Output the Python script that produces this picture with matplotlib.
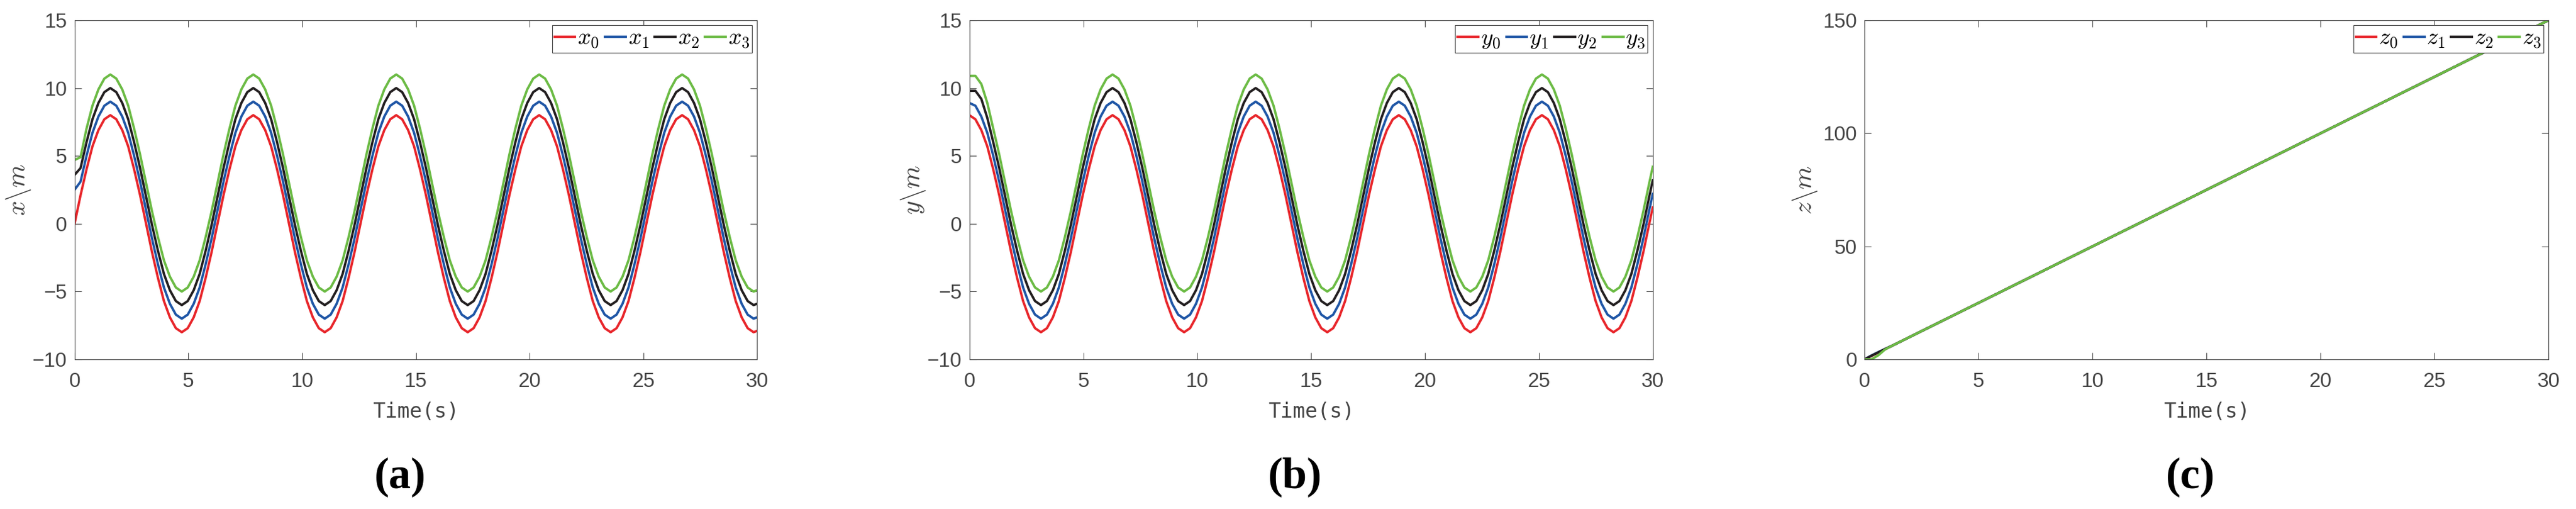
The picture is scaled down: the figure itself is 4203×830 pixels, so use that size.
import numpy as np
import matplotlib
matplotlib.use('Agg')
import matplotlib.pyplot as plt

plt.rcParams['mathtext.fontset'] = 'cm'
plt.rcParams['font.family'] = ['Liberation Sans', 'DejaVu Sans']

# time grid of the sampled curves (15 degree steps, last point at 30 s)
t_wave = np.append(np.arange(115) * np.pi / 12, 30.0)

x0 = [0, 2.1, 4.0, 5.7, 6.9, 7.7, 8.0, 7.7, 6.9, 5.7, 4.0, 2.1, 0, -2.1, -4.0, -5.7, -6.9, -7.7, -8.0, -7.7, -6.9, -5.7, -4.0, -2.1,
      0, 2.1, 4.0, 5.7, 6.9, 7.7, 8.0, 7.7, 6.9, 5.7, 4.0, 2.1, 0, -2.1, -4.0, -5.7, -6.9, -7.7, -8.0, -7.7, -6.9, -5.7, -4.0, -2.1,
      0, 2.1, 4.0, 5.7, 6.9, 7.7, 8.0, 7.7, 6.9, 5.7, 4.0, 2.1, 0, -2.1, -4.0, -5.7, -6.9, -7.7, -8.0, -7.7, -6.9, -5.7, -4.0, -2.1,
      0, 2.1, 4.0, 5.7, 6.9, 7.7, 8.0, 7.7, 6.9, 5.7, 4.0, 2.1, 0, -2.1, -4.0, -5.7, -6.9, -7.7, -8.0, -7.7, -6.9, -5.7, -4.0, -2.1,
      0, 2.1, 4.0, 5.7, 6.9, 7.7, 8.0, 7.7, 6.9, 5.7, 4.0, 2.1, 0, -2.1, -4.0, -5.7, -6.9, -7.7, -8.0, -7.9]
x1 = [2.5, 3.1, 5.0, 6.7, 7.9, 8.7, 9.0, 8.7, 7.9, 6.7, 5.0, 3.1, 1.0, -1.1, -3.0, -4.7, -5.9, -6.7, -7.0, -6.7, -5.9, -4.7, -3.0, -1.1,
      1.0, 3.1, 5.0, 6.7, 7.9, 8.7, 9.0, 8.7, 7.9, 6.7, 5.0, 3.1, 1.0, -1.1, -3.0, -4.7, -5.9, -6.7, -7.0, -6.7, -5.9, -4.7, -3.0, -1.1,
      1.0, 3.1, 5.0, 6.7, 7.9, 8.7, 9.0, 8.7, 7.9, 6.7, 5.0, 3.1, 1.0, -1.1, -3.0, -4.7, -5.9, -6.7, -7.0, -6.7, -5.9, -4.7, -3.0, -1.1,
      1.0, 3.1, 5.0, 6.7, 7.9, 8.7, 9.0, 8.7, 7.9, 6.7, 5.0, 3.1, 1.0, -1.1, -3.0, -4.7, -5.9, -6.7, -7.0, -6.7, -5.9, -4.7, -3.0, -1.1,
      1.0, 3.1, 5.0, 6.7, 7.9, 8.7, 9.0, 8.7, 7.9, 6.7, 5.0, 3.1, 1.0, -1.1, -3.0, -4.7, -5.9, -6.7, -7.0, -6.9]
x2 = [3.6, 4.1, 6.0, 7.7, 8.9, 9.7, 10.0, 9.7, 8.9, 7.7, 6.0, 4.1, 2.0, -0.1, -2.0, -3.7, -4.9, -5.7, -6.0, -5.7, -4.9, -3.7, -2.0, -0.1,
      2.0, 4.1, 6.0, 7.7, 8.9, 9.7, 10.0, 9.7, 8.9, 7.7, 6.0, 4.1, 2.0, -0.1, -2.0, -3.7, -4.9, -5.7, -6.0, -5.7, -4.9, -3.7, -2.0, -0.1,
      2.0, 4.1, 6.0, 7.7, 8.9, 9.7, 10.0, 9.7, 8.9, 7.7, 6.0, 4.1, 2.0, -0.1, -2.0, -3.7, -4.9, -5.7, -6.0, -5.7, -4.9, -3.7, -2.0, -0.1,
      2.0, 4.1, 6.0, 7.7, 8.9, 9.7, 10.0, 9.7, 8.9, 7.7, 6.0, 4.1, 2.0, -0.1, -2.0, -3.7, -4.9, -5.7, -6.0, -5.7, -4.9, -3.7, -2.0, -0.1,
      2.0, 4.1, 6.0, 7.7, 8.9, 9.7, 10.0, 9.7, 8.9, 7.7, 6.0, 4.1, 2.0, -0.1, -2.0, -3.7, -4.9, -5.7, -6.0, -5.9]
x3 = [4.7, 4.9, 7.0, 8.7, 9.9, 10.7, 11.0, 10.7, 9.9, 8.7, 7.0, 5.1, 3.0, 0.9, -1.0, -2.7, -3.9, -4.7, -5.0, -4.7, -3.9, -2.7, -1.0, 0.9,
      3.0, 5.1, 7.0, 8.7, 9.9, 10.7, 11.0, 10.7, 9.9, 8.7, 7.0, 5.1, 3.0, 0.9, -1.0, -2.7, -3.9, -4.7, -5.0, -4.7, -3.9, -2.7, -1.0, 0.9,
      3.0, 5.1, 7.0, 8.7, 9.9, 10.7, 11.0, 10.7, 9.9, 8.7, 7.0, 5.1, 3.0, 0.9, -1.0, -2.7, -3.9, -4.7, -5.0, -4.7, -3.9, -2.7, -1.0, 0.9,
      3.0, 5.1, 7.0, 8.7, 9.9, 10.7, 11.0, 10.7, 9.9, 8.7, 7.0, 5.1, 3.0, 0.9, -1.0, -2.7, -3.9, -4.7, -5.0, -4.7, -3.9, -2.7, -1.0, 0.9,
      3.0, 5.1, 7.0, 8.7, 9.9, 10.7, 11.0, 10.7, 9.9, 8.7, 7.0, 5.1, 3.0, 0.9, -1.0, -2.7, -3.9, -4.7, -5.0, -4.9]

y0 = [8.0, 7.7, 6.9, 5.7, 4.0, 2.1, 0, -2.1, -4.0, -5.7, -6.9, -7.7, -8.0, -7.7, -6.9, -5.7, -4.0, -2.1, 0, 2.1, 4.0, 5.7, 6.9, 7.7,
      8.0, 7.7, 6.9, 5.7, 4.0, 2.1, 0, -2.1, -4.0, -5.7, -6.9, -7.7, -8.0, -7.7, -6.9, -5.7, -4.0, -2.1, 0, 2.1, 4.0, 5.7, 6.9, 7.7,
      8.0, 7.7, 6.9, 5.7, 4.0, 2.1, 0, -2.1, -4.0, -5.7, -6.9, -7.7, -8.0, -7.7, -6.9, -5.7, -4.0, -2.1, 0, 2.1, 4.0, 5.7, 6.9, 7.7,
      8.0, 7.7, 6.9, 5.7, 4.0, 2.1, 0, -2.1, -4.0, -5.7, -6.9, -7.7, -8.0, -7.7, -6.9, -5.7, -4.0, -2.1, 0, 2.1, 4.0, 5.7, 6.9, 7.7,
      8.0, 7.7, 6.9, 5.7, 4.0, 2.1, 0, -2.1, -4.0, -5.7, -6.9, -7.7, -8.0, -7.7, -6.9, -5.7, -4.0, -2.1, 0, 1.2]
y1 = [8.9, 8.7, 7.9, 6.7, 5.0, 3.1, 1.0, -1.1, -3.0, -4.7, -5.9, -6.7, -7.0, -6.7, -5.9, -4.7, -3.0, -1.1, 1.0, 3.1, 5.0, 6.7, 7.9, 8.7,
      9.0, 8.7, 7.9, 6.7, 5.0, 3.1, 1.0, -1.1, -3.0, -4.7, -5.9, -6.7, -7.0, -6.7, -5.9, -4.7, -3.0, -1.1, 1.0, 3.1, 5.0, 6.7, 7.9, 8.7,
      9.0, 8.7, 7.9, 6.7, 5.0, 3.1, 1.0, -1.1, -3.0, -4.7, -5.9, -6.7, -7.0, -6.7, -5.9, -4.7, -3.0, -1.1, 1.0, 3.1, 5.0, 6.7, 7.9, 8.7,
      9.0, 8.7, 7.9, 6.7, 5.0, 3.1, 1.0, -1.1, -3.0, -4.7, -5.9, -6.7, -7.0, -6.7, -5.9, -4.7, -3.0, -1.1, 1.0, 3.1, 5.0, 6.7, 7.9, 8.7,
      9.0, 8.7, 7.9, 6.7, 5.0, 3.1, 1.0, -1.1, -3.0, -4.7, -5.9, -6.7, -7.0, -6.7, -5.9, -4.7, -3.0, -1.1, 1.0, 2.2]
y2 = [9.8, 9.8, 9.2, 7.8, 6.0, 4.1, 2.0, -0.1, -2.0, -3.7, -4.9, -5.7, -6.0, -5.7, -4.9, -3.7, -2.0, -0.1, 2.0, 4.1, 6.0, 7.7, 8.9, 9.7,
      10.0, 9.7, 8.9, 7.7, 6.0, 4.1, 2.0, -0.1, -2.0, -3.7, -4.9, -5.7, -6.0, -5.7, -4.9, -3.7, -2.0, -0.1, 2.0, 4.1, 6.0, 7.7, 8.9, 9.7,
      10.0, 9.7, 8.9, 7.7, 6.0, 4.1, 2.0, -0.1, -2.0, -3.7, -4.9, -5.7, -6.0, -5.7, -4.9, -3.7, -2.0, -0.1, 2.0, 4.1, 6.0, 7.7, 8.9, 9.7,
      10.0, 9.7, 8.9, 7.7, 6.0, 4.1, 2.0, -0.1, -2.0, -3.7, -4.9, -5.7, -6.0, -5.7, -4.9, -3.7, -2.0, -0.1, 2.0, 4.1, 6.0, 7.7, 8.9, 9.7,
      10.0, 9.7, 8.9, 7.7, 6.0, 4.1, 2.0, -0.1, -2.0, -3.7, -4.9, -5.7, -6.0, -5.7, -4.9, -3.7, -2.0, -0.1, 2.0, 3.2]
y3 = [10.9, 10.9, 10.3, 8.9, 7.0, 5.1, 3.0, 0.9, -1.0, -2.7, -3.9, -4.7, -5.0, -4.7, -3.9, -2.7, -1.0, 0.9, 3.0, 5.1, 7.0, 8.7, 9.9, 10.7,
      11.0, 10.7, 9.9, 8.7, 7.0, 5.1, 3.0, 0.9, -1.0, -2.7, -3.9, -4.7, -5.0, -4.7, -3.9, -2.7, -1.0, 0.9, 3.0, 5.1, 7.0, 8.7, 9.9, 10.7,
      11.0, 10.7, 9.9, 8.7, 7.0, 5.1, 3.0, 0.9, -1.0, -2.7, -3.9, -4.7, -5.0, -4.7, -3.9, -2.7, -1.0, 0.9, 3.0, 5.1, 7.0, 8.7, 9.9, 10.7,
      11.0, 10.7, 9.9, 8.7, 7.0, 5.1, 3.0, 0.9, -1.0, -2.7, -3.9, -4.7, -5.0, -4.7, -3.9, -2.7, -1.0, 0.9, 3.0, 5.1, 7.0, 8.7, 9.9, 10.7,
      11.0, 10.7, 9.9, 8.7, 7.0, 5.1, 3.0, 0.9, -1.0, -2.7, -3.9, -4.7, -5.0, -4.7, -3.9, -2.7, -1.0, 0.9, 3.0, 4.2]

t_z = [0, 0.3, 0.6, 0.9, 1.2, 30]
z0 = [0, 1.5, 3.0, 4.5, 6.0, 150]
z1 = [0, 1.7, 3.2, 4.6, 6.0, 150]
z2 = [0, 1.6, 3.1, 4.6, 6.0, 150]
z3 = [0, 0.0, 1.8, 4.4, 6.0, 150]

colors = ['#E8262B', '#1F56A6', '#231F20', '#6CBB45']
gray = '#454545'

# axes boxes in pixels: left, right (figure is 4203 x 830, axes 33..586 vertically)
W, H = 4203.0, 830.0
boxes = [(121.7, 1235.3), (1581.7, 2696.7), (3042.3, 4158.3)]
top_px, bot_px = 33.0, 586.0

panels = [
    (t_wave, [x0, x1, x2, x3], 'x', (-10, 15), [-10, -5, 0, 5, 10, 15], -0.062, '(a)'),
    (t_wave, [y0, y1, y2, y3], 'y', (-10, 15), [-10, -5, 0, 5, 10, 15], -0.062, '(b)'),
    (t_z, [z0, z1, z2, z3], 'z', (0, 150), [0, 50, 100, 150], -0.067, '(c)'),
]

fig = plt.figure(figsize=(W / 100, H / 100), dpi=100)

for (l, r), (tt, series, name, ylim, yt, ylab_x, tag) in zip(boxes, panels):
    ax = fig.add_axes([l / W, 1 - bot_px / H, (r - l) / W, (bot_px - top_px) / H])
    for i, s in enumerate(series):
        ax.plot(tt, s, color=colors[i], lw=2.8, label='$%s_%d$' % (name, i))
    ax.set_xlim(0, 30)
    ax.set_ylim(*ylim)
    ax.set_xticks([0, 5, 10, 15, 20, 25, 30])
    ax.set_yticks(yt)
    for sp in ax.spines.values():
        sp.set_color(gray)
        sp.set_linewidth(0.8)
    ax.tick_params(direction='in', length=8, width=0.8, color=gray, top=True, right=True,
                   labelsize=24, labelcolor=gray)
    ax.tick_params(axis='x', pad=15)
    ax.tick_params(axis='y', pad=9)
    ax.set_xlabel('Time(s)', fontsize=24, color=gray, family='DejaVu Sans Mono', labelpad=12)
    ax.set_ylabel(r'$%s\backslash m$' % name, fontsize=31, color=gray)
    ax.yaxis.set_label_coords(ylab_x, 0.5)
    leg = ax.legend(loc='upper right', ncol=4, fontsize=27, frameon=True, fancybox=False,
                    handlelength=0.9, handletextpad=0.1, columnspacing=0.25, borderpad=0.1,
                    borderaxespad=0.22, labelspacing=0.1)
    leg.get_frame().set_edgecolor(gray)
    leg.get_frame().set_linewidth(0.8)
    leg.get_frame().set_alpha(1)
    for lh in leg.get_lines():
        lh.set_linewidth(2.8)
    cx = (l + r) / 2 - 26
    fig.text(cx / W, 1 - 778 / H, tag, ha='center', va='center', fontsize=52,
             family='Liberation Serif', fontweight='bold')

fig.savefig('out.png', dpi=100, facecolor='white')
